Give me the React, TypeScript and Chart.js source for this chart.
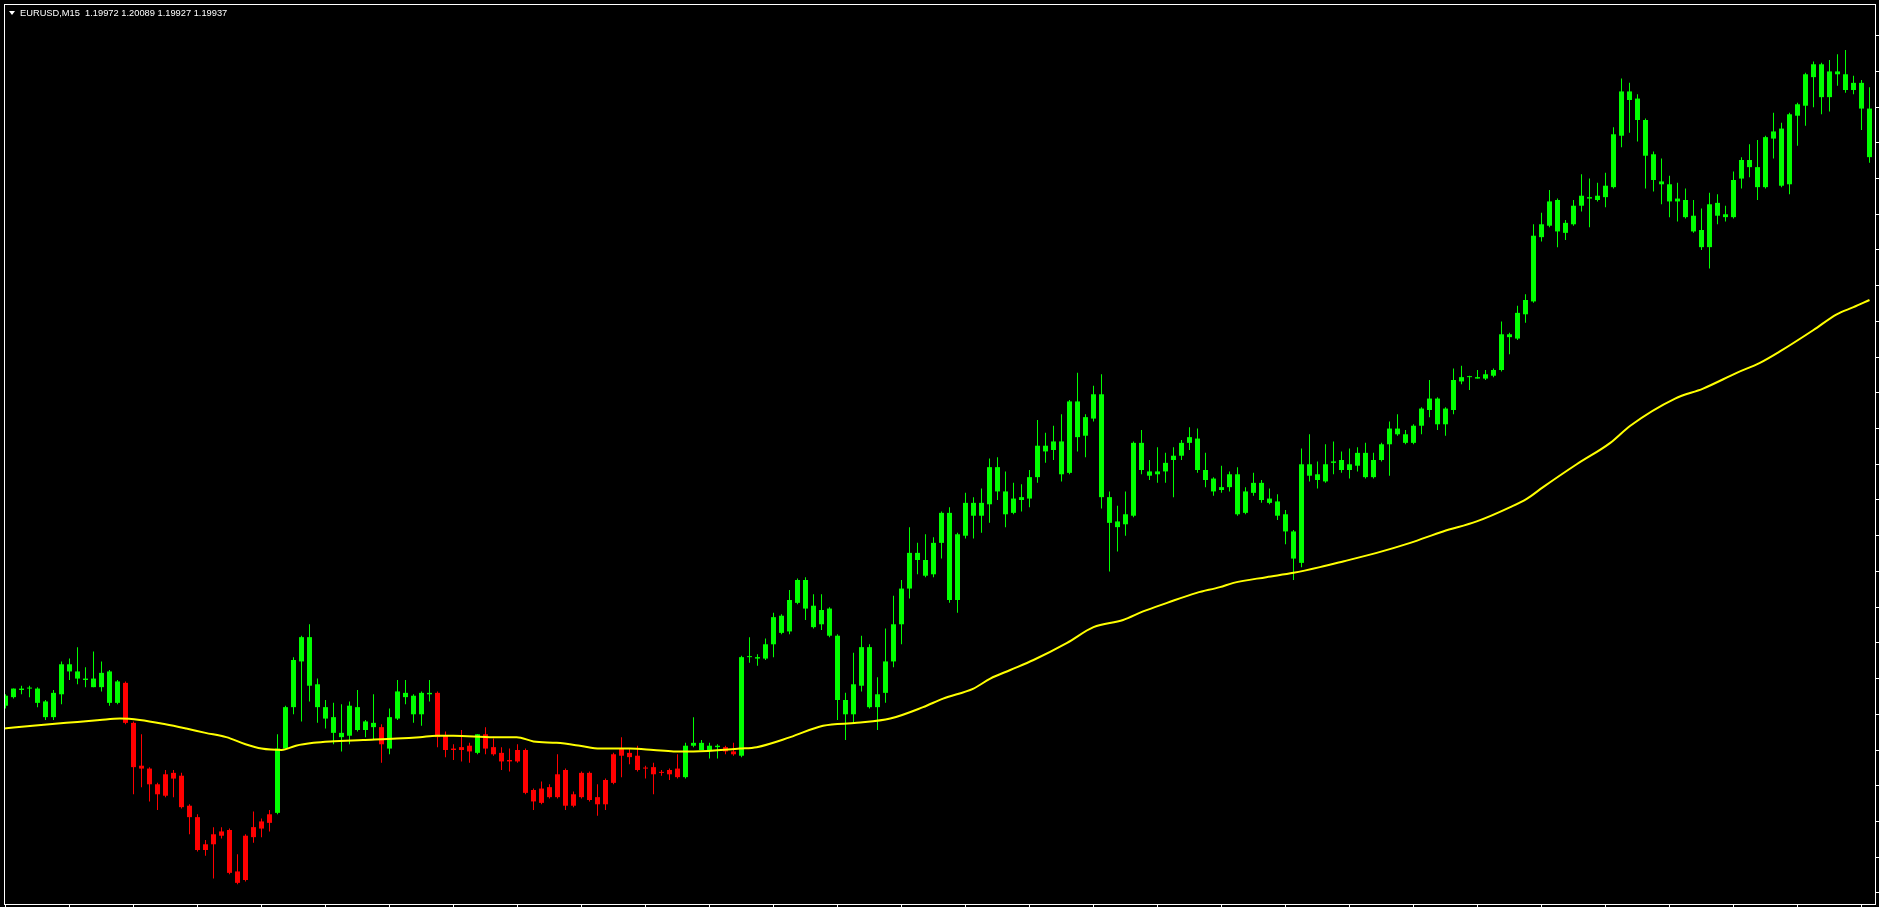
import React, { useEffect, useRef } from "react";
import { Chart, registerables } from "chart.js";

Chart.register(...registerables);

// ---- header text ----
const symbolTitle = "EURUSD,M15";
const titleQuote = ["1.19972", "1.20089", "1.19927", "1.19937"];

// ---- OHLC of the 234 visible M15 bars (left to right) ----
const opens = [
  1.19556, 1.19562, 1.19567, 1.19568, 1.19568, 1.19559, 1.19548, 1.19564, 1.19585, 1.1958,
  1.19575, 1.19575, 1.19569, 1.1958, 1.19558, 1.19572, 1.19544, 1.19514, 1.19512, 1.19501,
  1.19493, 1.19509, 1.19507, 1.19486, 1.19478, 1.19455, 1.19459, 1.19465, 1.19469, 1.1944,
  1.19434, 1.19464, 1.1947, 1.19474, 1.19481, 1.19526, 1.19555, 1.19587, 1.19604, 1.19571,
  1.19555, 1.19548, 1.19537, 1.19535, 1.19555, 1.19539, 1.19544, 1.19541, 1.19526, 1.19547,
  1.19565, 1.19563, 1.1955, 1.19565, 1.19565, 1.19535, 1.19526, 1.19525, 1.19528, 1.19523,
  1.19536, 1.19527, 1.19523, 1.19517, 1.19517, 1.19525, 1.19497, 1.19488, 1.19499, 1.19492,
  1.19511, 1.19486, 1.19492, 1.19509, 1.19492, 1.19487, 1.19502, 1.19521, 1.19523, 1.19521,
  1.19512, 1.19513, 1.19509, 1.19511, 1.19506, 1.19506, 1.19528, 1.1953, 1.19525, 1.19528,
  1.19527, 1.19524, 1.19521, 1.1959, 1.1959, 1.19589, 1.19599, 1.19619, 1.19608, 1.19628,
  1.19644, 1.19626, 1.19613, 1.19624, 1.19605, 1.1956, 1.1955, 1.1957, 1.19597, 1.19555,
  1.19565, 1.19587, 1.19613, 1.19638, 1.19663, 1.19658, 1.19648, 1.1967, 1.19691, 1.1963,
  1.19675, 1.19698, 1.19689, 1.19697, 1.19723, 1.19706, 1.19691, 1.197, 1.19701, 1.19716,
  1.19738, 1.19735, 1.19741, 1.19719, 1.19769, 1.19745, 1.19757, 1.19774, 1.19702, 1.19685,
  1.19683, 1.19689, 1.1974, 1.1972, 1.19718, 1.1972, 1.19728, 1.19731, 1.1974, 1.19743,
  1.19721, 1.19715, 1.19707, 1.19709, 1.19718, 1.19691, 1.19705, 1.19712, 1.19701, 1.19699,
  1.1969, 1.19678, 1.19656, 1.19725, 1.19718, 1.19713, 1.19726, 1.19728, 1.19721, 1.19724,
  1.19733, 1.19716, 1.19728, 1.19739, 1.1975, 1.19746, 1.1974, 1.19752, 1.19763, 1.19771,
  1.19753, 1.19763, 1.19783, 1.19786, 1.19786, 1.19785, 1.19787, 1.19791, 1.19816, 1.19813,
  1.1983, 1.19839, 1.19884, 1.19892, 1.1991, 1.19887, 1.19893, 1.19906, 1.19912, 1.1991,
  1.19912, 1.19919, 1.19955, 1.19986, 1.19981, 1.19966, 1.19942, 1.19923, 1.19921, 1.19909,
  1.1991, 1.19899, 1.19889, 1.19877, 1.19908, 1.199, 1.19898, 1.19925, 1.19938, 1.19933,
  1.19919, 1.19953, 1.1996, 1.19921, 1.19969, 1.19976, 1.19996, 1.20005, 1.19982, 1.2,
  1.19998, 1.19987, 1.19992, 1.19974,
];

const highs = [
  1.19564, 1.19568, 1.1957, 1.1957, 1.19569, 1.1956, 1.19567, 1.19587, 1.19589, 1.19597,
  1.19583, 1.19594, 1.19587, 1.19581, 1.19574, 1.19573, 1.19545, 1.19536, 1.19513, 1.19502,
  1.19511, 1.19511, 1.19509, 1.19487, 1.1948, 1.19462, 1.19471, 1.19471, 1.1947, 1.19452,
  1.19466, 1.19482, 1.19477, 1.19483, 1.19536, 1.19556, 1.1959, 1.19605, 1.19613, 1.19575,
  1.1956, 1.19558, 1.19557, 1.19559, 1.19567, 1.19546, 1.19564, 1.19543, 1.19554, 1.19574,
  1.19574, 1.19564, 1.19566, 1.19574, 1.19566, 1.19538, 1.19529, 1.19539, 1.1953, 1.19536,
  1.19541, 1.19533, 1.19527, 1.19526, 1.19529, 1.19526, 1.19498, 1.19503, 1.19501, 1.19522,
  1.19512, 1.19496, 1.1951, 1.1951, 1.19501, 1.19505, 1.19523, 1.19534, 1.19526, 1.19528,
  1.19514, 1.19516, 1.19511, 1.19512, 1.19522, 1.1953, 1.19548, 1.19532, 1.1953, 1.19529,
  1.19528, 1.1953, 1.19591, 1.19604, 1.19592, 1.19603, 1.19621, 1.1962, 1.19637, 1.19645,
  1.19646, 1.19634, 1.19634, 1.19625, 1.19606, 1.19565, 1.19593, 1.19605, 1.19599, 1.19576,
  1.1961, 1.19633, 1.19644, 1.19681, 1.1967, 1.19676, 1.19674, 1.19692, 1.19695, 1.19677,
  1.19705, 1.19702, 1.19708, 1.19729, 1.1973, 1.1972, 1.19712, 1.19711, 1.19721, 1.19756,
  1.19747, 1.19752, 1.1976, 1.1977, 1.19789, 1.1976, 1.1978, 1.19788, 1.19706, 1.19696,
  1.19706, 1.19741, 1.19749, 1.19728, 1.19737, 1.19733, 1.19737, 1.19742, 1.19751, 1.1975,
  1.19733, 1.19716, 1.19724, 1.1972, 1.19723, 1.19709, 1.19719, 1.19714, 1.19708, 1.19704,
  1.19693, 1.19679, 1.19736, 1.19746, 1.19727, 1.19739, 1.19741, 1.19734, 1.19736, 1.19737,
  1.1974, 1.19733, 1.1974, 1.19755, 1.1976, 1.19749, 1.19753, 1.19765, 1.19784, 1.19772,
  1.19765, 1.19792, 1.19794, 1.19787, 1.19791, 1.19791, 1.19792, 1.19825, 1.19817, 1.19836,
  1.19844, 1.19893, 1.19901, 1.19917, 1.19911, 1.19896, 1.1991, 1.19928, 1.19925, 1.19922,
  1.19929, 1.19961, 1.19995, 1.19992, 1.19984, 1.19967, 1.19944, 1.19939, 1.19927, 1.19922,
  1.19918, 1.1991, 1.19904, 1.19915, 1.19914, 1.19906, 1.1993, 1.1994, 1.19949, 1.19952,
  1.19955, 1.19971, 1.19964, 1.19971, 1.19978, 1.19999, 1.20007, 1.20006, 1.20008, 1.20012,
  1.20015, 1.19997, 1.19994, 1.19989,
];

const lows = [
  1.19554, 1.19561, 1.19564, 1.19562, 1.19555, 1.19546, 1.19546, 1.19557, 1.19574, 1.19571,
  1.19569, 1.19569, 1.19566, 1.19556, 1.19557, 1.19543, 1.19494, 1.19499, 1.19489, 1.19483,
  1.19492, 1.19492, 1.19484, 1.19466, 1.19454, 1.19451, 1.19435, 1.19463, 1.19438, 1.19431,
  1.19433, 1.1946, 1.19464, 1.19468, 1.1948, 1.19525, 1.1955, 1.19545, 1.19559, 1.19544,
  1.1954, 1.19529, 1.19524, 1.19529, 1.19538, 1.19534, 1.19532, 1.19516, 1.19522, 1.19546,
  1.19557, 1.19544, 1.19542, 1.19559, 1.19527, 1.1952, 1.19518, 1.19517, 1.19516, 1.19522,
  1.19522, 1.19521, 1.19511, 1.1951, 1.19516, 1.19494, 1.19483, 1.19487, 1.19491, 1.19491,
  1.19483, 1.19485, 1.19491, 1.19489, 1.19479, 1.19483, 1.19501, 1.19506, 1.19515, 1.1951,
  1.19505, 1.19494, 1.19507, 1.19504, 1.19505, 1.19505, 1.19527, 1.19525, 1.19519, 1.19519,
  1.19522, 1.19521, 1.1952, 1.19586, 1.19584, 1.19588, 1.1959, 1.19606, 1.19606, 1.19627,
  1.19616, 1.1961, 1.19609, 1.19604, 1.19546, 1.19532, 1.19544, 1.19566, 1.19554, 1.19539,
  1.19558, 1.19583, 1.19599, 1.19631, 1.19648, 1.19646, 1.19646, 1.19659, 1.19628, 1.19621,
  1.19673, 1.19673, 1.19677, 1.19684, 1.197, 1.19681, 1.1969, 1.19692, 1.19695, 1.19712,
  1.19726, 1.19728, 1.19713, 1.19718, 1.19734, 1.1973, 1.19755, 1.19694, 1.1965, 1.19664,
  1.19675, 1.19688, 1.19718, 1.19714, 1.19712, 1.19712, 1.19702, 1.19728, 1.19735, 1.19719,
  1.19709, 1.19703, 1.19705, 1.19706, 1.19689, 1.1969, 1.19703, 1.19698, 1.19697, 1.19686,
  1.19669, 1.19644, 1.19653, 1.19713, 1.19708, 1.19712, 1.19718, 1.19719, 1.19715, 1.1972,
  1.19715, 1.19715, 1.19727, 1.19717, 1.19745, 1.19739, 1.19739, 1.19746, 1.19758, 1.19749,
  1.19745, 1.1976, 1.19781, 1.19777, 1.19785, 1.19784, 1.19786, 1.1979, 1.19802, 1.19812,
  1.19824, 1.19838, 1.19881, 1.19891, 1.19877, 1.19882, 1.19892, 1.19902, 1.19891, 1.19909,
  1.19905, 1.19918, 1.19947, 1.19957, 1.19951, 1.19918, 1.19916, 1.19907, 1.19898, 1.19895,
  1.19897, 1.19887, 1.19875, 1.19862, 1.19893, 1.19895, 1.19897, 1.19918, 1.19926, 1.1991,
  1.19918, 1.19939, 1.19919, 1.19914, 1.19948, 1.19962, 1.19975, 1.1997, 1.19972, 1.1999,
  1.19985, 1.19984, 1.19959, 1.19936,
];

const closes = [
  1.19563, 1.19568, 1.19568, 1.19568, 1.19558, 1.19548, 1.19565, 1.19585, 1.1958, 1.19575,
  1.19574, 1.19569, 1.19579, 1.19558, 1.19573, 1.19544, 1.19513, 1.19512, 1.19501, 1.19494,
  1.19508, 1.19505, 1.19485, 1.19478, 1.19455, 1.19459, 1.19466, 1.19468, 1.19439, 1.19432,
  1.19465, 1.19471, 1.19475, 1.1948, 1.19526, 1.19555, 1.19588, 1.19604, 1.1957, 1.19555,
  1.19547, 1.19537, 1.19534, 1.19556, 1.19539, 1.19545, 1.19541, 1.19529, 1.19548, 1.19566,
  1.19562, 1.1955, 1.19565, 1.19564, 1.19534, 1.19525, 1.19525, 1.19527, 1.19524, 1.19536,
  1.19526, 1.19522, 1.19517, 1.19518, 1.19525, 1.19495, 1.19489, 1.19498, 1.19492, 1.19508,
  1.19486, 1.19494, 1.19509, 1.1949, 1.19487, 1.19504, 1.19522, 1.19526, 1.1952, 1.19511,
  1.19512, 1.19508, 1.19509, 1.19508, 1.19512, 1.19528, 1.1953, 1.19525, 1.19528, 1.19527,
  1.19524, 1.19522, 1.1959, 1.1959, 1.19589, 1.19599, 1.19618, 1.19607, 1.1963, 1.19644,
  1.19624, 1.19611, 1.19623, 1.19605, 1.1956, 1.1955, 1.19571, 1.19597, 1.19555, 1.19564,
  1.19587, 1.19613, 1.19638, 1.19663, 1.19658, 1.19647, 1.1967, 1.19691, 1.1963, 1.19676,
  1.19698, 1.19689, 1.19698, 1.19723, 1.19706, 1.1969, 1.19701, 1.19702, 1.19716, 1.19738,
  1.19734, 1.19741, 1.19718, 1.19769, 1.19744, 1.19758, 1.19774, 1.19702, 1.19684, 1.19681,
  1.1969, 1.1974, 1.19721, 1.19717, 1.1972, 1.19726, 1.19731, 1.1974, 1.19744, 1.19721,
  1.19714, 1.19706, 1.19709, 1.19718, 1.1969, 1.19706, 1.19712, 1.197, 1.19698, 1.19689,
  1.19678, 1.19659, 1.19725, 1.19717, 1.19714, 1.19725, 1.19727, 1.19721, 1.19725, 1.19733,
  1.19716, 1.19728, 1.19739, 1.1975, 1.19746, 1.1974, 1.19752, 1.19764, 1.19771, 1.19753,
  1.19764, 1.19784, 1.19786, 1.19786, 1.19785, 1.19788, 1.19791, 1.19816, 1.19814, 1.19831,
  1.1984, 1.19885, 1.19893, 1.19909, 1.19888, 1.19894, 1.19906, 1.19913, 1.19911, 1.19913,
  1.1992, 1.19956, 1.19986, 1.1998, 1.19966, 1.19941, 1.19924, 1.19921, 1.19909, 1.19911,
  1.19898, 1.19888, 1.19877, 1.19907, 1.19899, 1.19898, 1.19924, 1.19938, 1.19933, 1.19919,
  1.19954, 1.19958, 1.1992, 1.1997, 1.19977, 1.19998, 1.20005, 1.19982, 1.2, 1.19998,
  1.19987, 1.19992, 1.19974, 1.1994,
];

// bars drawn in red (closed below the moving average); all others are green
const redBars = [
  15, 16, 17, 18, 19, 20, 21, 22, 23, 24, 25, 26, 27, 28, 29, 30, 31, 32, 33,
  47, 54, 55, 56, 57, 58,
  60, 61, 62, 63, 64, 65, 66, 67, 68, 69, 70, 71, 72, 73, 74, 75, 76, 77, 78, 79, 80, 81, 82, 83, 84,
  90, 91,
];

// ---- moving average (yellow), read at bar positions ----
const maIndex = [
  -0.2, 3.4, 7.6, 11.8, 14.3, 16.8, 20, 22.6, 25, 27.6, 30, 32, 34.5, 36.3, 38.5, 40.6,
  44.7, 48.9, 51.8, 53.9, 56, 61, 63.9, 66, 68.9, 71.8, 74.3, 78, 81, 83.5, 86, 91.8,
  93.9, 98.1, 102.2, 106.4, 110.6, 114.7, 117.2, 121, 123.1, 125.6, 128.5, 132.7, 136,
  139.7, 142.2, 145.2, 148.9, 151.8, 153.5, 157.6, 161, 164.3, 167.2, 171.4, 175.6,
  179.7, 183.9, 188.1, 190.2, 192.2, 196.4, 200.6, 203.1, 208.7, 212.2, 216.4, 219.3,
  221.8, 226, 228.9, 231, 233,
];
const maValues = [
  1.1954, 1.19542, 1.19544, 1.19546, 1.19547, 1.19546, 1.19543, 1.1954, 1.19537, 1.19534,
  1.19529, 1.19526, 1.19525, 1.19528, 1.1953, 1.19531, 1.19532, 1.19533, 1.19534, 1.19535,
  1.19535, 1.19534, 1.19534, 1.19531, 1.1953, 1.19528, 1.19526, 1.19526, 1.19525, 1.19524,
  1.19524, 1.19526, 1.19527, 1.19534, 1.19542, 1.19544, 1.19547, 1.19555, 1.19561, 1.19568,
  1.19575, 1.19581, 1.19588, 1.196, 1.19611, 1.19616, 1.19622, 1.19628, 1.19635, 1.19639,
  1.19642, 1.19646, 1.19649, 1.19653, 1.19657, 1.19663, 1.1967, 1.19678, 1.19685, 1.19695,
  1.19701, 1.19709, 1.19725, 1.1974, 1.19752, 1.19771, 1.19778, 1.19789, 1.19796, 1.19804,
  1.19819, 1.1983, 1.19835, 1.1984,
];

// ---- axis settings ----
const xView = [-0.1875, 233.8125]; // visible bar-index window
const yView = [1.194165, 1.200472]; // visible price window
const xTickStep = 8; // one time tick every 8 bars
const yTickStep = 0.00025; // one price tick every 0.00025

const bullColor = "#00ff00";
const bearColor = "#ff0000";
const maColor = "#ffff00";

export default function App() {
  const canvasRef = useRef<HTMLCanvasElement | null>(null);

  useEffect(() => {
    document.body.style.margin = "0";
    document.body.style.background = "#000";
    document.documentElement.style.background = "#000";
    const canvas = canvasRef.current;
    if (!canvas) return;

    const idx = opens.map((_, i) => i);
    const colorOf = (i: number) => (redBars.includes(i) ? bearColor : bullColor);

    const framePlugin = {
      id: "frame",
      afterDatasetsDraw(chart: any) {
        const { ctx, chartArea } = chart;
        ctx.save();
        ctx.strokeStyle = "#ffffff";
        ctx.lineWidth = 1;
        ctx.strokeRect(
          chartArea.left + 0.5,
          chartArea.top + 0.5,
          chartArea.right - chartArea.left - 1,
          chartArea.bottom - chartArea.top - 1
        );
        ctx.restore();
      },
    };

    const chart = new Chart(canvas, {
      type: "bar",
      data: {
        datasets: [
          {
            type: "line",
            label: "MA",
            data: maIndex.map((x, k) => ({ x, y: maValues[k] })),
            borderColor: maColor,
            borderWidth: 2,
            pointRadius: 0,
            cubicInterpolationMode: "monotone",
            fill: false,
            clip: 0,
            order: 0,
          } as any,
          {
            type: "bar",
            label: "Body",
            data: idx.map((i) => ({ x: i, y: [opens[i], closes[i]] })),
            backgroundColor: idx.map(colorOf),
            barThickness: 5,
            minBarLength: 1,
            grouped: false,
            inflateAmount: 0,
            borderWidth: 0,
            clip: 0,
            order: 1,
          } as any,
          {
            type: "bar",
            label: "Wick",
            data: idx.map((i) => ({ x: i, y: [lows[i], highs[i]] })),
            backgroundColor: idx.map(colorOf),
            barThickness: 1,
            minBarLength: 1,
            grouped: false,
            inflateAmount: 0,
            borderWidth: 0,
            clip: 0,
            order: 2,
          } as any,
        ],
      },
      options: {
        responsive: false,
        animation: false,
        events: [],
        layout: { padding: { left: 4, top: 4, right: 0, bottom: 0 } },
        plugins: {
          legend: { display: false },
          tooltip: { enabled: false },
          title: { display: false },
        },
        scales: {
          x: {
            type: "linear",
            min: xView[0],
            max: xView[1],
            offset: false,
            grid: {
              offset: false,
              drawOnChartArea: false,
              drawTicks: true,
              tickLength: 2,
              color: "#ffffff",
              lineWidth: 1,
            },
            border: { display: false },
            ticks: { display: false, stepSize: xTickStep, includeBounds: false },
          },
          y: {
            type: "linear",
            position: "right",
            min: yView[0],
            max: yView[1],
            beginAtZero: false,
            grid: {
              drawOnChartArea: false,
              drawTicks: true,
              tickLength: 3,
              color: "#ffffff",
              lineWidth: 1,
            },
            border: { display: false },
            ticks: { display: false, stepSize: yTickStep, includeBounds: false },
          },
        },
      } as any,
      plugins: [framePlugin],
    });

    return () => chart.destroy();
  }, []);

  return (
    <div style={{ position: "relative", width: 1879, height: 907, background: "#000" }}>
      <canvas ref={canvasRef} width={1879} height={907} style={{ display: "block" }} />
      <div
        style={{
          position: "absolute",
          left: 9,
          top: 11,
          width: 0,
          height: 0,
          borderLeft: "3px solid transparent",
          borderRight: "3px solid transparent",
          borderTop: "4px solid #ffffff",
        }}
      />
      <div
        style={{
          position: "absolute",
          left: 20,
          top: 8,
          color: "#ffffff",
          fontFamily: '"Liberation Sans", Arial, sans-serif',
          fontSize: "9.3px",
          lineHeight: "10px",
          whiteSpace: "pre",
        }}
      >
        {`${symbolTitle}  ${titleQuote.join(" ")}`}
      </div>
    </div>
  );
}
